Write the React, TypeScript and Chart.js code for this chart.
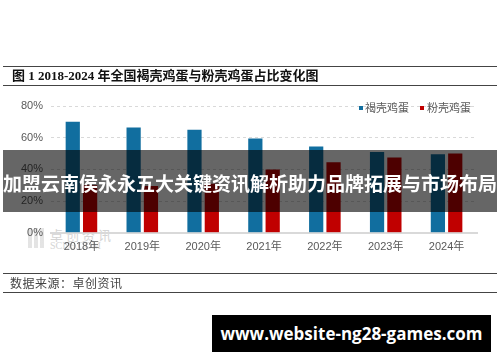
import React, { useEffect, useRef } from "react";
import { Chart, registerables } from "chart.js";

Chart.register(...registerables);

const categories = ["2018年", "2019年", "2020年", "2021年", "2022年", "2023年", "2024年"];
const brownShare = [70, 66.5, 65, 59.5, 54.5, 51, 49.5];
const pinkShare = [30, 29.5, 31, 40, 44.5, 47.5, 50];
const seriesNames = ["褐壳鸡蛋", "粉壳鸡蛋"];
const seriesColors = ["#116e9f", "#c00000"];
const yTicks = [0, 20, 40, 60, 80];

const titleText = "图 1 2018-2024 年全国褐壳鸡蛋与粉壳鸡蛋占比变化图";
const sourceText = "数据来源：卓创资讯";
const bannerText = "加盟云南侯永永五大关键资讯解析助力品牌拓展与市场布局";
const urlText = "www.website-ng28-games.com";

const CJK = '"Liberation Sans", "Noto Sans CJK SC", sans-serif';

export default function App() {
  const canvasRef = useRef<HTMLCanvasElement | null>(null);

  useEffect(() => {
    document.body.style.margin = "0";
    const canvas = canvasRef.current;
    if (!canvas) return;
    const chart = new Chart(canvas, {
      type: "bar",
      data: {
        labels: categories,
        datasets: [
          {
            label: seriesNames[0],
            data: brownShare,
            backgroundColor: seriesColors[0],
            categoryPercentage: 0.57,
            barPercentage: 0.82,
          },
          {
            label: seriesNames[1],
            data: pinkShare,
            backgroundColor: seriesColors[1],
            categoryPercentage: 0.57,
            barPercentage: 0.82,
          },
        ],
      },
      options: {
        responsive: false,
        animation: false,
        devicePixelRatio: 1,
        layout: { padding: { left: 13, top: 106, right: 23, bottom: 100 } },
        plugins: {
          legend: { display: false },
          tooltip: { enabled: false },
          title: { display: false },
        },
        scales: {
          x: {
            grid: { display: false, drawTicks: false },
            border: { display: true, color: "#d9d9d9", width: 2 },
            ticks: {
              color: "#595959",
              font: { family: CJK, size: 11 },
              padding: 8,
            },
          },
          y: {
            min: 0,
            max: 80,
            afterBuildTicks: (axis: any) => {
              axis.ticks = yTicks.map((v) => ({ value: v }));
            },
            grid: {
              drawTicks: false,
              color: (ctx: any) => (ctx.tick && ctx.tick.value === 0 ? "rgba(0,0,0,0)" : "#d9d9d9"),
              lineWidth: 1,
            },
            border: { display: false, dash: [3, 3] },
            ticks: {
              color: "#595959",
              font: { family: CJK, size: 11 },
              padding: 8,
              callback: (v: any) => v + "%",
            },
          },
        },
      },
    });
    return () => chart.destroy();
  }, []);

  const line = (top: number): React.CSSProperties => ({
    position: "absolute",
    left: 3,
    width: 494,
    top,
    height: 1,
    background: "#444",
  });

  return (
    <div style={{ position: "absolute", left: 0, top: 0, width: 500, height: 362, background: "#fff", overflow: "hidden" }}>
      {/* watermark */}
      <div style={{ position: "absolute", left: 28, top: 228, width: 18, height: 20, background: "repeating-linear-gradient(90deg,#ddd 0 4px,#fff 4px 6px)", opacity: 0.8 }} />
      <div style={{ position: "absolute", left: 50, top: 225, fontFamily: '"Noto Sans CJK SC", sans-serif', fontSize: 13, color: "#d4d4d4", letterSpacing: 3 }}>卓创资讯</div>
      <div style={{ position: "absolute", left: 50, top: 240, fontFamily: '"Liberation Serif", serif', fontSize: 10, color: "#d4d4d4" }}>SCI99.COM</div>

      <canvas ref={canvasRef} width={500} height={362} style={{ position: "absolute", left: 0, top: 0, width: 500, height: 362 }} />

      {/* legend */}
      <div style={{ position: "absolute", left: 359, top: 100, display: "flex", alignItems: "center", fontFamily: CJK, fontSize: 11, color: "#595959", lineHeight: "16px" }}>
        <span style={{ width: 4, height: 4, background: seriesColors[0], display: "inline-block", marginRight: 2 }} />
        <span>{seriesNames[0]}</span>
        <span style={{ width: 4, height: 4, background: seriesColors[1], display: "inline-block", marginLeft: 11, marginRight: 3 }} />
        <span>{seriesNames[1]}</span>
      </div>

      {/* title */}
      <div style={line(66)} />
      <div style={{ position: "absolute", left: 12, top: 67, fontFamily: '"Liberation Serif", "Noto Sans CJK SC", serif', fontWeight: 700, fontSize: 13, color: "#111", lineHeight: "18px", whiteSpace: "nowrap" }}>{titleText}</div>
      <div style={line(85)} />

      {/* source */}
      <div style={line(273)} />
      <div style={{ position: "absolute", left: 10, top: 274, fontFamily: '"Noto Sans CJK SC", sans-serif', fontSize: 12, color: "#444", lineHeight: "18px", letterSpacing: 0.5, whiteSpace: "nowrap" }}>{sourceText}</div>
      <div style={line(292)} />

      {/* banner */}
      <div style={{ position: "absolute", left: 3, top: 150, width: 494, height: 62, background: "rgba(0,0,0,0.6)", display: "flex", alignItems: "center", justifyContent: "center" }}>
        <span style={{ fontFamily: '"Noto Sans CJK SC", sans-serif', fontWeight: 700, fontSize: 19, color: "#fff", whiteSpace: "nowrap", marginTop: 3 }}>{bannerText}</span>
      </div>

      {/* url box */}
      <div style={{ position: "absolute", left: 212, top: 315, width: 279, height: 37, background: "#000", display: "flex", alignItems: "center", justifyContent: "center" }}>
        <span style={{ fontFamily: '"Open Sans", sans-serif', fontWeight: 700, fontSize: 17, color: "#fff", whiteSpace: "nowrap" }}>{urlText}</span>
      </div>
    </div>
  );
}
